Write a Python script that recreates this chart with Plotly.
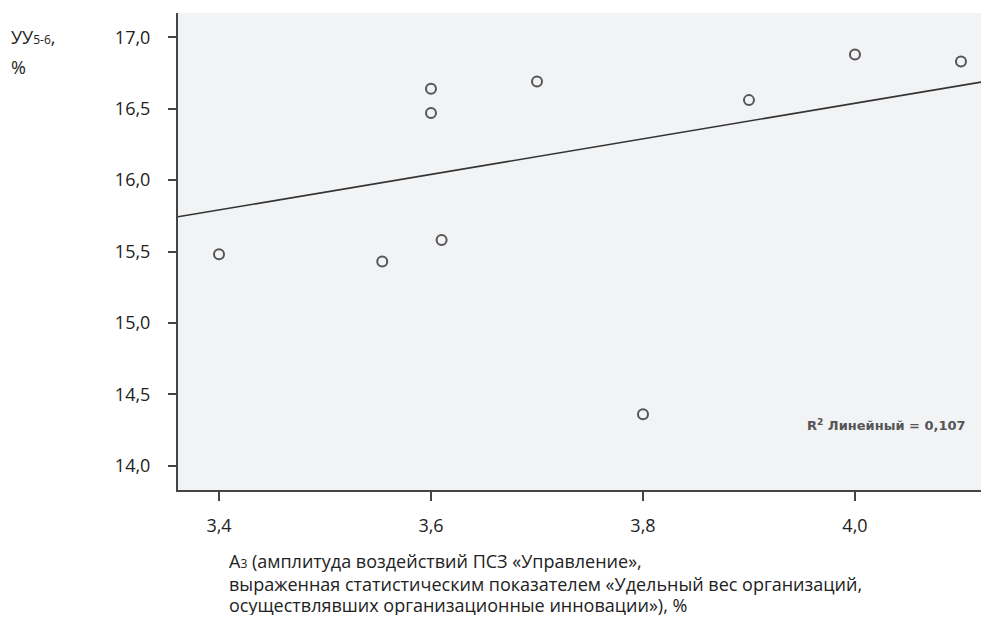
import plotly.graph_objects as go

# Data
x_vals = [3.40, 3.554, 3.60, 3.60, 3.61, 3.70, 3.80, 3.90, 4.00, 4.10]
y_vals = [15.48, 15.43, 16.64, 16.47, 15.58, 16.69, 14.36, 16.56, 16.88, 16.83]

# Linear fit reported on the chart
fit_slope = 1.245
fit_intercept = 11.558
r2_text = "R<sup>2</sup> Линейный = 0,107"

x_ticks = [3.4, 3.6, 3.8, 4.0]
y_ticks = [14.0, 14.5, 15.0, 15.5, 16.0, 16.5, 17.0]
x_range = [3.3613, 4.1189]
y_range = [13.83, 17.17]

font_family = "Open Sans"

# page offset compensation (browser body margin of 8px)
OFF = 8
PLOT_L, PLOT_T, PLOT_B, PLOT_W = 178, 13, 490, 803
PLOT_H = PLOT_B - PLOT_T


def px(xp):
    return (xp - PLOT_L) / PLOT_W


def py(yp):
    return (PLOT_B - yp) / PLOT_H


fig = go.Figure()

fit_x = x_range
fit_y = [fit_intercept + fit_slope * v for v in fit_x]
fig.add_trace(go.Scatter(
    x=fit_x, y=fit_y, mode="lines",
    line=dict(color="#333333", width=1.6),
    hoverinfo="skip", showlegend=False,
))

fig.add_trace(go.Scatter(
    x=x_vals, y=y_vals, mode="markers",
    marker=dict(symbol="circle-open", size=10, color="#555555",
                line=dict(width=2, color="#555555")),
    showlegend=False,
))

fig.update_layout(
    width=973, height=607,
    margin=dict(l=PLOT_L - OFF, r=0, t=PLOT_T - OFF, b=607 - (PLOT_B - OFF)),
    paper_bgcolor="white",
    plot_bgcolor="#f2f3f5",
    separators=", ",
    font=dict(family=font_family, size=18, color="#222222"),
    showlegend=False,
)

fig.update_xaxes(
    range=x_range, tickvals=x_ticks,
    tickformat=".1f",
    showgrid=False, zeroline=False,
    showline=True, linecolor="#444444", linewidth=2,
    ticks="outside", ticklen=9, tickwidth=1.5, tickcolor="#444444",
    ticklabelstandoff=9,
    tickfont=dict(size=18, color="#222222"),
)
fig.update_yaxes(
    range=y_range, tickvals=y_ticks,
    tickformat=".1f",
    showgrid=False, zeroline=False,
    showline=True, linecolor="#444444", linewidth=2,
    ticks="outside", ticklen=8, tickwidth=1.5, tickcolor="#444444",
    ticklabelstandoff=14,
    tickfont=dict(size=18, color="#222222"),
)

# R^2 label
fig.add_annotation(
    xref="paper", yref="paper", x=px(805), y=py(425),
    xanchor="left", yanchor="middle", showarrow=False,
    text="<b>" + r2_text + "</b>",
    font=dict(family="DejaVu Sans", size=13, color="#555555"),
)

# Y axis title (top-left)
fig.add_annotation(
    xref="paper", yref="paper", x=px(9), y=py(37),
    xanchor="left", yanchor="middle", showarrow=False, align="left",
    text="УУ<span style='font-size:12px'>5-6</span>,",
    font=dict(family=font_family, size=18, color="#222222"),
)
fig.add_annotation(
    xref="paper", yref="paper", x=px(9), y=py(67),
    xanchor="left", yanchor="middle", showarrow=False, align="left",
    text="%",
    font=dict(family=font_family, size=18, color="#222222"),
)

# X axis title (multi-line, left aligned)
x_title_lines = [
    "А<span style='font-size:12px'>3</span> (амплитуда воздействий ПСЗ «Управление»,",
    "выраженная статистическим показателем «Удельный вес организаций,",
    "осуществлявших организационные инновации»), %",
]
x_title_y = [561, 583.5, 605]
for line, yp in zip(x_title_lines, x_title_y):
    fig.add_annotation(
        xref="paper", yref="paper", x=px(227),
        y=py(yp),
        xanchor="left", yanchor="middle", showarrow=False, align="left",
        text=line,
        font=dict(family=font_family, size=18, color="#222222"),
    )

fig.write_html("out.html")
